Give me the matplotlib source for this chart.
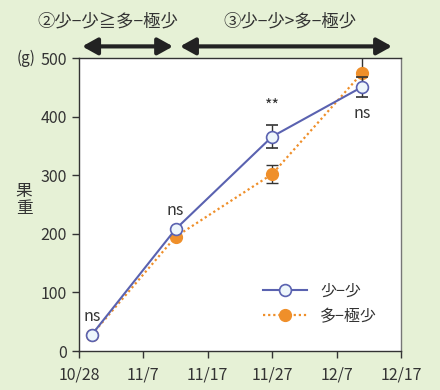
import matplotlib
matplotlib.use("Agg")
import matplotlib.pyplot as plt
import matplotlib.dates as mdates
from matplotlib.lines import Line2D
import datetime as dt

plt.rcParams['font.family'] = ['Noto Sans CJK JP', 'DejaVu Sans']

dates = ["2020-10-30", "2020-11-12", "2020-11-27", "2020-12-11"]
series_a_name = "少−少"
series_b_name = "多−極少"
series_a = [28, 208, 366, 451]
series_a_err = [0, 0, 20, 17]
series_b = [28, 195, 302, 475]
series_b_err = [0, 0, 16, 28]
sig_labels = ["ns", "ns", "**", "ns"]
tick_dates = ["2020-10-28", "2020-11-07", "2020-11-17", "2020-11-27", "2020-12-07", "2020-12-17"]
tick_labels = ["10/28", "11/7", "11/17", "11/27", "12/7", "12/17"]
yticks = [0, 100, 200, 300, 400, 500]
period2_label = "②少−少≧多−極少"
period3_label = "③少−少>多−極少"

def d(s):
    return mdates.date2num(dt.datetime.strptime(s, "%Y-%m-%d"))

x = [d(s) for s in dates]
xt = [d(s) for s in tick_dates]

bg = "#e6f1d6"
blue = "#5a62b0"
orange = "#ef8f2a"
light = "#eef6fb"
dark = "#333333"

fig = plt.figure(figsize=(4.4, 3.9), dpi=100, facecolor=bg)
ax = fig.add_axes([0.1795, 0.1, 0.7318, 0.751])
ax.set_facecolor("white")

ax.errorbar(x, series_b, yerr=series_b_err, color=orange, ls=(0, (1, 1.3)), lw=1.6,
            marker="o", ms=8.5, mfc=orange, mec=orange, ecolor=dark, elinewidth=1,
            capsize=4, capthick=1, zorder=3)
ax.errorbar(x, series_a, yerr=series_a_err, color=blue, ls="-", lw=1.5,
            marker="o", ms=8.5, mfc=light, mec=blue, mew=1.2, ecolor=dark, elinewidth=1,
            capsize=4, capthick=1, zorder=4)

# significance labels
offsets = [(0, 7), (0, 7), (0, 16), (0, -25)]
anchor_vals = [series_b[0], series_a[1], series_a[2], series_a[3]]
for xi, yv, lab, off in zip(x, anchor_vals, sig_labels, offsets):
    ax.annotate(lab, (xi, yv), xytext=off, textcoords="offset points",
                ha="center", va="bottom", fontsize=11.5, color=dark)

ax.set_xlim(xt[0], xt[-1])
ax.set_ylim(0, 500)
ax.set_xticks(xt)
ax.set_xticklabels(tick_labels)
ax.set_yticks(yticks)
ax.tick_params(axis="both", direction="out", length=5, width=1, colors=dark,
               labelsize=11.5, labelcolor=dark)
ax.tick_params(axis="x", pad=6)
for sp in ax.spines.values():
    sp.set_color(dark)
    sp.set_linewidth(1)
ax.spines["right"].set_color("#777777")

# y label and unit
fig.text(0.055, 0.487, "果\n重", ha="center", va="center", fontsize=12,
         color=dark, linespacing=1.0)
fig.text(0.06, 0.851, "(g)", ha="center", va="center", fontsize=11, color=dark)

# period arrows
ya = 520
ap = dict(arrowstyle="<|-|>,head_length=0.9,head_width=0.5", color="#222222", lw=3,
          shrinkA=0, shrinkB=0)
ax.annotate("", xy=(xt[0] + 0.5, ya), xytext=(xt[0] + 14.6, ya), arrowprops=ap,
            annotation_clip=False)
ax.annotate("", xy=(xt[0] + 15.7, ya), xytext=(xt[0] + 48.6, ya), arrowprops=ap,
            annotation_clip=False)
fig.text(0.245, 0.945, period2_label, ha="center", va="center", fontsize=12.5, color=dark)
fig.text(0.66, 0.945, period3_label, ha="center", va="center", fontsize=12.5, color=dark)

handles = [
    Line2D([], [], color=blue, ls="-", lw=1.5, marker="o", ms=8.5, mfc=light,
           mec=blue, mew=1.2),
    Line2D([], [], color=orange, ls=(0, (1, 1.3)), lw=1.6, marker="o", ms=8.5,
           mfc=orange, mec=orange),
]
leg = ax.legend(handles, [series_a_name, series_b_name], loc="lower right",
                frameon=False, fontsize=11.5, handlelength=2.8,
                bbox_to_anchor=(0.97, 0.04), labelspacing=0.5)
for t in leg.get_texts():
    t.set_color(dark)

fig.savefig("out.png", dpi=100, facecolor=bg)
